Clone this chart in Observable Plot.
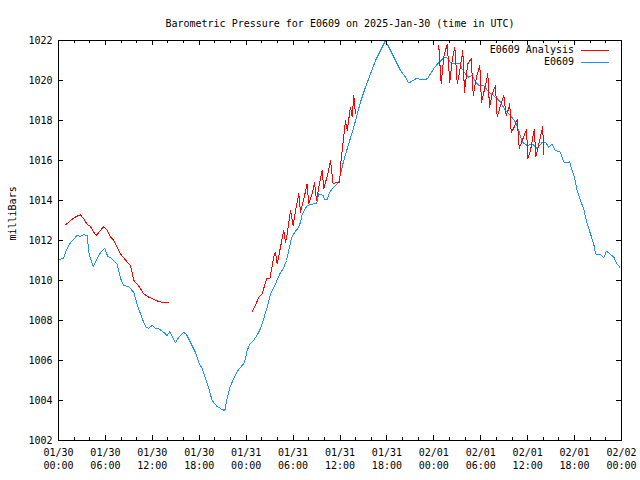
<!DOCTYPE html>
<html><head><meta charset="utf-8">
<script src="https://cdn.jsdelivr.net/npm/d3@7"></script>
<script src="https://cdn.jsdelivr.net/npm/@observablehq/plot@0.6"></script>
<style>body{margin:0;background:#fff}#chart svg{display:block}</style>
</head><body><div id="chart"></div>
<script>
const title = "Barometric Pressure for E0609 on 2025-Jan-30 (time in UTC)";
const yLabel = "milliBars";
const seriesNames = ["E0609 Analysis", "E0609"];
const seriesColors = ["#ff0000", "#1e90ff"];
const startTime = "2025-01-30T00:00:00Z";
const spanHours = 72;
const yTicks = [1002, 1004, 1006, 1008, 1010, 1012, 1014, 1016, 1018, 1020, 1022];
const xMajorHours = [0, 6, 12, 18, 24, 30, 36, 42, 48, 54, 60, 66, 72];
const xMinorHours = [0,2,4,6,8,10,12,14,16,18,20,22,24,26,28,30,32,34,36,38,40,42,44,46,48,50,52,54,56,58,60,62,64,66,68,70,72];

// E0609 observations (hours since start, mb)
const obsHours = [0.1,0.64,1.0,1.53,2.39,2.81,3.2,3.67,3.87,4.09,4.44,4.95,5.37,5.92,6.3,6.65,7.07,7.51,7.93,8.35,8.99,9.63,10.06,10.7,11.13,11.51,11.98,12.4,12.79,13.47,13.9,14.23,14.54,14.96,15.38,16.02,16.37,16.88,17.52,17.94,18.38,18.8,19.22,19.65,20.29,20.93,21.27,21.57,21.91,22.42,22.85,23.27,23.79,24.13,24.46,24.94,25.45,25.83,26.18,26.69,27.11,27.75,28.3,28.73,29.16,29.45,29.76,30.18,30.6,30.95,31.16,31.8,32.65,32.99,33.29,33.85,34.02,34.36,34.69,35.2,35.84,36.06,36.48,36.92,37.76,38.62,39.26,39.9,40.54,41.18,41.82,42.03,42.67,43.31,43.73,44.37,44.8,45.23,45.87,46.29,47.15,47.57,48.0,48.63,49.27,49.71,50.13,50.77,51.32,51.62,52.05,52.47,52.9,53.32,53.75,54.39,55.03,55.88,56.52,57.16,57.8,58.44,58.86,59.3,59.94,60.58,61.21,61.85,62.28,62.7,63.13,63.55,64.19,64.62,65.05,65.35,65.56,65.98,66.33,66.75,67.17,67.39,67.69,68.03,68.45,68.67,69.31,69.73,70.08,70.5,71.01,71.44,71.78];
const obsValues = [1011.05,1011.1,1011.5,1011.9,1012.25,1012.2,1012.3,1012.25,1011.4,1011.1,1010.7,1011.1,1011.4,1011.6,1011.2,1011.15,1011.0,1010.8,1010.1,1009.75,1009.7,1009.4,1008.8,1008.1,1007.7,1007.6,1007.75,1007.6,1007.6,1007.4,1007.25,1007.45,1007.2,1006.9,1007.15,1007.4,1007.3,1006.9,1006.4,1005.9,1005.6,1005.1,1004.6,1004.0,1003.7,1003.55,1003.5,1004.1,1004.65,1005.1,1005.45,1005.65,1005.9,1006.5,1006.8,1007.0,1007.3,1007.6,1008.0,1008.67,1009.33,1009.83,1010.33,1010.58,1011.0,1011.5,1012.08,1012.4,1012.6,1012.9,1013.3,1013.75,1013.83,1013.83,1014.33,1014.25,1014.03,1014.03,1014.42,1014.67,1014.92,1015.33,1016.0,1016.58,1017.67,1018.92,1019.67,1020.33,1021.0,1021.5,1022.0,1021.83,1021.33,1020.83,1020.5,1020.17,1019.87,1019.97,1020.13,1020.03,1020.08,1020.33,1020.6,1020.9,1021.13,1021.13,1020.9,1020.83,1020.83,1020.58,1020.33,1020.17,1020.25,1019.92,1019.75,1019.75,1019.42,1019.17,1018.92,1018.5,1018.25,1017.92,1017.5,1016.92,1016.75,1016.83,1016.6,1016.9,1016.92,1016.67,1016.83,1016.5,1016.42,1015.92,1015.87,1015.95,1015.67,1015.17,1014.5,1014.0,1013.58,1013.17,1012.75,1012.33,1011.83,1011.33,1011.3,1011.13,1011.47,1011.33,1011.17,1010.83,1010.67];

// E0609 Analysis (NaN marks a gap)
const anaHours = [0.9,1.32,1.96,2.39,2.81,3.24,3.67,4.09,4.51,4.82,5.37,5.79,6.23,6.65,7.07,7.51,7.93,8.35,8.79,9.21,9.63,10.06,10.49,10.91,11.55,12.19,12.83,13.47,14.03,
  19.0,
  24.77,25.19,25.61,26.05,26.6,27.02,27.53,27.75,27.97,28.39,28.81,29.03,29.25,29.67,30.01,30.31,30.73,30.95,31.37,31.8,32.0,32.44,32.74,32.99,33.29,33.72,33.92,34.44,34.78,35.12,35.64,35.97,36.06,36.28,36.7,36.92,37.34,37.56,37.76,37.98,
  43.0,
  48.63,48.94,49.27,49.71,50.04,50.35,50.68,51.0,51.32,51.7,51.92,52.34,52.78,53.04,53.45,53.88,54.09,54.6,54.9,55.12,55.46,55.88,56.1,56.52,56.95,57.25,57.58,57.71,57.89,58.2,58.66,58.92,59.3,59.85,60.04,60.36,60.84,61.06,61.42,61.92,62.06];
const anaValues = [1012.78,1012.92,1013.13,1013.22,1013.28,1013.08,1012.8,1012.7,1012.42,1012.25,1012.5,1012.7,1012.5,1012.17,1012.0,1011.67,1011.33,1011.13,1010.92,1010.75,1010.0,1009.83,1009.58,1009.33,1009.17,1009.05,1008.95,1008.88,1008.88,
  NaN,
  1008.45,1008.75,1009.17,1009.33,1010.08,1010.08,1011.17,1011.42,1010.83,1011.67,1012.5,1011.92,1012.33,1013.5,1012.75,1013.5,1014.33,1013.42,1014.08,1014.83,1013.83,1014.33,1014.92,1014.0,1014.67,1015.5,1014.58,1015.33,1016.0,1014.83,1014.92,1014.92,1015.75,1016.5,1018.0,1017.5,1018.67,1018.17,1019.25,1018.33,
  NaN,
  1021.75,1019.83,1021.17,1021.83,1019.92,1021.0,1021.67,1019.83,1020.5,1021.5,1019.42,1020.83,1021.08,1019.25,1020.17,1020.75,1018.92,1019.75,1020.33,1018.67,1019.33,1019.75,1018.17,1018.75,1019.25,1018.25,1018.6,1018.85,1017.4,1017.6,1018.05,1016.6,1017.0,1017.55,1016.1,1016.5,1017.55,1016.2,1016.8,1017.68,1016.3];

const t0 = new Date(startTime);
const toDate = h => new Date(+t0 + h * 3600e3);
const obs = obsHours.map((h, i) => ({t: toDate(h), v: obsValues[i]}));
const ana = anaHours.map((h, i) => ({t: toDate(h), v: anaValues[i]}));
const majorX = xMajorHours.map(toDate);
const minorX = xMinorHours.map(toDate);

const W = 640, H = 480, mL = 58, mR = 19, mT = 40, mB = 40;
const innerW = W - mL - mR, innerH = H - mT - mB;
const majLen = 5, minLen = 3;

const legend = (index, scales, values, dims) => {
  const g = d3.create("svg:g").attr("font-family", "DejaVu Sans Mono").attr("font-size", 10);
  const xr = dims.width - dims.marginRight;
  seriesNames.forEach((name, i) => {
    const y = dims.marginTop + 10 + i * 12;
    g.append("text").attr("x", xr - 47).attr("y", y).attr("dy", "0.32em")
      .attr("text-anchor", "end").attr("fill", "black").text(name);
    g.append("line").attr("x1", xr - 40).attr("x2", xr - 12).attr("y1", y + 0.5).attr("y2", y + 0.5)
      .attr("stroke", seriesColors[i]).attr("stroke-width", 1);
  });
  return g.node();
};

const chart = Plot.plot({
  width: W, height: H,
  marginLeft: mL, marginRight: mR, marginTop: mT, marginBottom: mB,
  style: {fontFamily: "DejaVu Sans Mono", fontSize: "10px", background: "white", color: "black"},
  x: {type: "utc", domain: [toDate(0), toDate(spanHours)], axis: null},
  y: {domain: [yTicks[0], yTicks[yTicks.length - 1]], axis: null},
  marks: [
    Plot.line(obs, {x: "t", y: "v", stroke: seriesColors[1], strokeWidth: 1, shapeRendering: "crispEdges"}),
    Plot.line(ana, {x: "t", y: "v", stroke: seriesColors[0], strokeWidth: 1, shapeRendering: "crispEdges"}),
    Plot.frame({stroke: "black", shapeRendering: "crispEdges"}),
    Plot.tickX(majorX, {x: d => d, insetTop: innerH - majLen, stroke: "black", shapeRendering: "crispEdges"}),
    Plot.tickX(majorX, {x: d => d, insetBottom: innerH - majLen, stroke: "black", shapeRendering: "crispEdges"}),
    Plot.tickX(minorX, {x: d => d, insetTop: innerH - minLen, stroke: "black", shapeRendering: "crispEdges"}),
    Plot.tickX(minorX, {x: d => d, insetBottom: innerH - minLen, stroke: "black", shapeRendering: "crispEdges"}),
    Plot.tickY(yTicks, {y: d => d, insetRight: innerW - majLen, stroke: "black", shapeRendering: "crispEdges"}),
    Plot.tickY(yTicks, {y: d => d, insetLeft: innerW - majLen, stroke: "black", shapeRendering: "crispEdges"}),
    Plot.text(yTicks, {y: d => d, text: d => String(d), frameAnchor: "left", textAnchor: "end", dx: -6, fill: "black"}),
    Plot.text(majorX, {x: d => d, text: d3.utcFormat("%m/%d"), frameAnchor: "bottom", dy: 15, fill: "black"}),
    Plot.text(majorX, {x: d => d, text: d3.utcFormat("%H:%M"), frameAnchor: "bottom", dy: 28, fill: "black"}),
    Plot.text([title], {frameAnchor: "top", dy: -21, fill: "black"}),
    Plot.text([yLabel], {frameAnchor: "left", dx: -46, rotate: -90, fill: "black"}),
    legend
  ]
});
document.getElementById("chart").appendChild(chart);
</script>
</body></html>
